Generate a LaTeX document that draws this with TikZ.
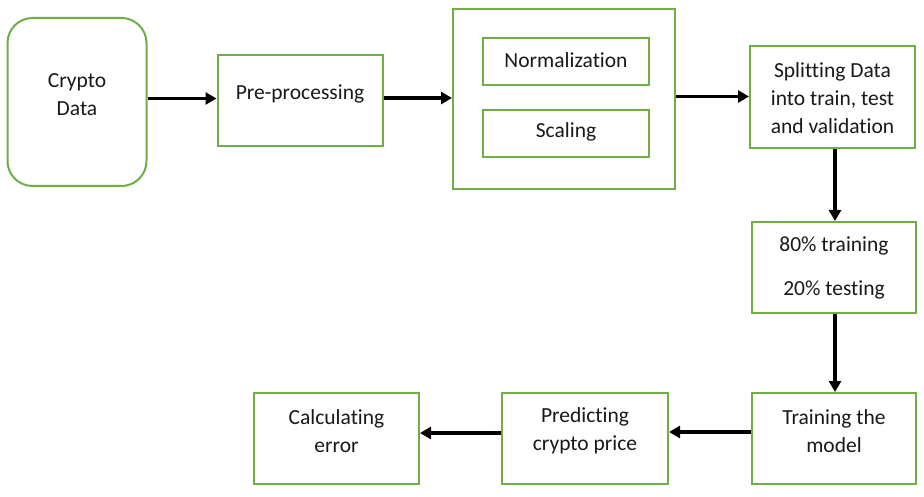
\documentclass[tikz,border=0pt]{standalone}
\usepackage{fontspec}
\setmainfont[Ligatures=CommonOff]{Carlito}
\usetikzlibrary{arrows.meta}
\definecolor{boxgreen}{HTML}{70AD47}
\begin{document}
\begin{tikzpicture}[x=1pt,y=-1pt,
  box/.style={draw=boxgreen,line width=2pt,fill=white,inner sep=0pt},
  txt/.style={font=\fontsize{21.5}{28}\selectfont,align=center,inner sep=0pt,text=black!90},
  arr/.style={line width=3.6pt,-{Triangle[length=11pt,width=12pt]}}]
\useasboundingbox[fill=white] (0,0) rectangle (924,497);
% boxes
\node[box,rounded corners=25pt,minimum width=139pt,minimum height=168pt] (crypto) at (77,102) {};
\node[box,minimum width=165pt,minimum height=91pt] (pre) at (300,101) {};
\node[box,minimum width=222pt,minimum height=180pt] (big) at (564,99) {};
\node[box,minimum width=166pt,minimum height=47pt] (norm) at (566,61.5) {};
\node[box,minimum width=166pt,minimum height=47pt] (scal) at (566,133.5) {};
\node[box,minimum width=165pt,minimum height=102pt] (split) at (832.5,97.5) {};
\node[box,minimum width=164pt,minimum height=91pt] (pct) at (834,267.5) {};
\node[box,minimum width=164pt,minimum height=91pt] (train) at (834,438.5) {};
\node[box,minimum width=166pt,minimum height=91pt] (pred) at (585,438.5) {};
\node[box,minimum width=165pt,minimum height=91pt] (calc) at (336.5,438.5) {};
% texts
\node[txt] (cryptot) at (77,95) {Crypto\\Data};
\node[txt] (pret) at (300,94) {Pre-processing};
\node[txt] (normt) at (566,60) {Normalization};
\node[txt] (scalt) at (566,132) {Scaling};
\node[txt] (splitt) at (832.5,98.5) {Splitting Data\\into train, test\\and validation};
\node[txt] (pctt) at (834,267.5) {80\% training\\[16pt]20\% testing};
\node[txt] (traint) at (834,431) {Training the\\model};
\node[txt] (predt) at (585,431) {Predicting\\crypto price};
\node[txt] (calct) at (336.5,431) {Calculating\\error};
% arrows
\draw[arr] (crypto.east |- 0,98.5) -- (pre.west |- 0,98.5);
\draw[arr] (pre.east |- 0,98) -- (big.west |- 0,98);
\draw[arr] (big.east |- 0,96.5) -- (split.west |- 0,96.5);
\draw[arr] (split.south -| 835,0) -- (pct.north -| 835,0);
\draw[arr] (pct.south -| 835,0) -- (train.north -| 835,0);
\draw[arr] (train.west |- 0,432) -- (pred.east |- 0,432);
\draw[arr] (pred.west |- 0,433) -- (calc.east |- 0,433);
\end{tikzpicture}
\end{document}
